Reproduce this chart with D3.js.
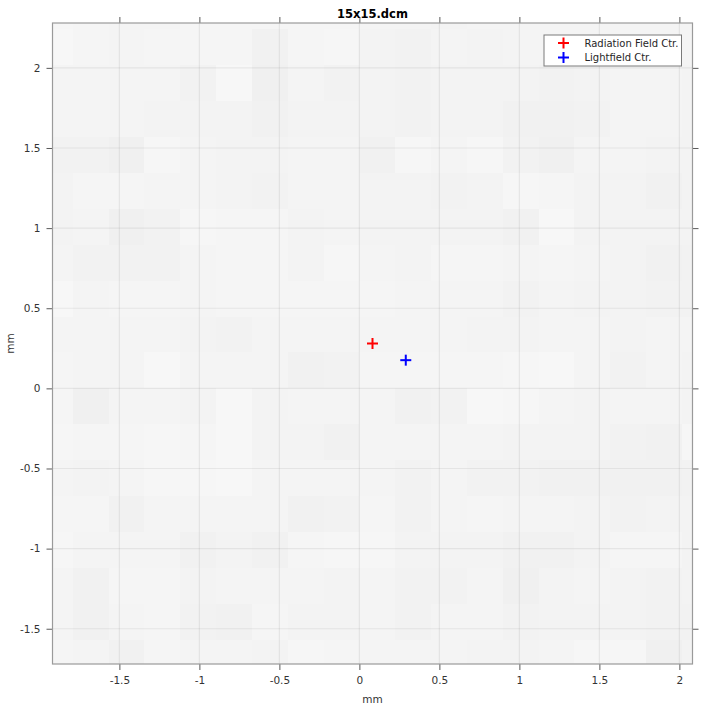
<!DOCTYPE html>
<html>
<head>
<meta charset="utf-8">
<script src="https://cdn.jsdelivr.net/npm/d3@7"></script>
<style>
  html, body { margin: 0; padding: 0; background: #ffffff; }
  svg { display: block; font-family: "DejaVu Sans", sans-serif; }
</style>
</head>
<body>
<svg id="chart" width="717" height="709"></svg>
<script>
// ---------------- DATA ----------------
const title = "15x15.dcm";
const xLabel = "mm";
const yLabel = "mm";
const xDomain = [-1.918, 2.082];
const yDomain = [-1.72, 2.28];
const xTicks = [-1.5, -1, -0.5, 0, 0.5, 1, 1.5, 2];
const yTicks = [-1.5, -1, -0.5, 0, 0.5, 1, 1.5, 2];
const xTickLabels = ["-1.5", "-1", "-0.5", "0", "0.5", "1", "1.5", "2"];
const yTickLabels = ["-1.5", "-1", "-0.5", "0", "0.5", "1", "1.5", "2"];
const pixelSize = 0.224; // mm per image pixel

// image pixel centres (mm)
const colCenters = [-1.904, -1.68, -1.456, -1.232, -1.008, -0.784, -0.56, -0.336, -0.112,
  0.112, 0.336, 0.56, 0.784, 1.008, 1.232, 1.456, 1.68, 1.904, 2.128];
const rowCenters = [2.352, 2.128, 1.904, 1.68, 1.456, 1.232, 1.008, 0.784, 0.56, 0.336,
  0.112, -0.112, -0.336, -0.56, -0.784, -1.008, -1.232, -1.456, -1.68];

// grey level (0-255) of each image pixel, rows top to bottom
const imageRows = [
  [246,245,244,244,245,245,245,245,245,244, 244,243,244,244,244,244,244,244,244],
  [247,245,244,245,245,245,241,245,246,243, 242,244,243,244,244,244,244,244,244],
  [244,244,244,244,242,247,240,244,242,243, 242,243,243,243,242,243,244,244,243],
  [244,244,244,243,243,243,241,243,243,243, 242,243,243,241,241,242,244,244,243],
  [242,242,240,246,244,243,243,244,244,241, 246,244,246,242,240,244,244,243,243],
  [243,245,245,244,244,243,242,244,244,243, 243,242,243,246,245,243,243,241,243],
  [243,244,240,242,246,245,245,243,244,243, 243,243,243,241,247,243,243,243,243],
  [244,242,242,242,244,245,245,243,246,244, 243,245,245,244,245,244,243,241,242],
  [247,244,245,245,244,245,245,245,245,245, 244,244,244,242,244,243,243,242,242],
  [244,244,244,244,243,242,244,244,244,244, 244,244,243,243,244,244,243,244,244],
  [245,244,244,247,244,244,244,241,242,245, 245,245,245,246,247,244,242,244,243],
  [245,240,244,244,243,247,243,244,244,244, 241,242,247,246,244,243,244,244,243],
  [246,245,245,246,245,247,243,243,241,244, 244,244,244,243,243,243,242,241,246],
  [244,243,244,246,246,247,244,244,244,244, 242,244,242,242,241,241,241,241,242],
  [245,245,241,244,244,244,244,241,242,245, 242,244,245,244,244,243,242,243,243],
  [246,244,244,244,241,243,241,245,246,246, 243,243,243,241,241,243,245,245,243],
  [244,241,245,245,243,244,244,244,243,244, 242,242,244,240,243,244,243,242,243],
  [244,241,244,245,242,241,245,243,243,244, 242,244,244,242,243,243,243,242,242],
  [245,244,241,245,244,244,243,246,245,244, 244,244,243,243,244,246,246,240,243]
];

const seriesNames = ["Radiation Field Ctr.", "Lightfield Ctr."];
const seriesColors = ["#ff0000", "#0000ff"];
const centerX = [0.082, 0.29];
const centerY = [0.28, 0.176];

// ---------------- LAYOUT ----------------
const svg = d3.select("#chart");
const margin = { left: 52.5, right: 692.5, top: 23, bottom: 664 };

const x = d3.scaleLinear().domain(xDomain).range([margin.left, margin.right]);
const y = d3.scaleLinear().domain(yDomain).range([margin.bottom, margin.top]);
const grey = d3.scaleLinear().domain([0, 255]).range(["#000000", "#ffffff"]);

svg.append("defs").append("clipPath").attr("id", "plotClip")
  .append("rect")
  .attr("x", margin.left).attr("y", margin.top)
  .attr("width", margin.right - margin.left)
  .attr("height", margin.bottom - margin.top);

const plot = svg.append("g").attr("clip-path", "url(#plotClip)");

// image cells
const cells = [];
imageRows.forEach((row, ri) => row.forEach((v, ci) => {
  cells.push({ cx: colCenters[ci], cy: rowCenters[ri], v });
}));
plot.append("g").selectAll("rect").data(cells).join("rect")
  .attr("x", d => x(d.cx - pixelSize / 2))
  .attr("y", d => y(d.cy + pixelSize / 2))
  .attr("width", d => x(d.cx + pixelSize / 2) - x(d.cx - pixelSize / 2) + 0.5)
  .attr("height", d => y(d.cy - pixelSize / 2) - y(d.cy + pixelSize / 2) + 0.5)
  .attr("fill", d => grey(d.v))
  .attr("shape-rendering", "crispEdges");

// grid
const gridColor = "rgba(38,38,38,0.075)";
plot.append("g").selectAll("line").data(xTicks).join("line")
  .attr("x1", d => x(d)).attr("x2", d => x(d))
  .attr("y1", margin.top).attr("y2", margin.bottom)
  .attr("stroke", gridColor).attr("stroke-width", 1.2);
plot.append("g").selectAll("line").data(yTicks).join("line")
  .attr("y1", d => y(d)).attr("y2", d => y(d))
  .attr("x1", margin.left).attr("x2", margin.right)
  .attr("stroke", gridColor).attr("stroke-width", 1.2);

// markers
function plus(sel, size, color, width) {
  sel.append("line").attr("x1", -size).attr("x2", size).attr("y1", 0).attr("y2", 0)
    .attr("stroke", color).attr("stroke-width", width);
  sel.append("line").attr("y1", -size).attr("y2", size).attr("x1", 0).attr("x2", 0)
    .attr("stroke", color).attr("stroke-width", width);
}
seriesNames.forEach((name, i) => {
  const g = plot.append("g").attr("transform", `translate(${x(centerX[i])},${y(centerY[i])})`);
  plus(g, 5.5, seriesColors[i], 2);
});

// axes
const tickSize = 6;
const fontSize = 10.5;

function styleAxis(g) {
  g.select(".domain").remove();
  g.selectAll(".tick line").attr("stroke", "#5a5a5a").attr("stroke-width", 1);
  g.selectAll(".tick text").attr("fill", "#333333").attr("font-size", fontSize)
    .attr("font-family", "DejaVu Sans, sans-serif");
}
svg.append("g").attr("transform", `translate(0,${margin.bottom})`)
  .call(d3.axisBottom(x).tickValues(xTicks).tickFormat((d, i) => xTickLabels[i]).tickSize(tickSize).tickPadding(7))
  .call(styleAxis);
svg.append("g").attr("transform", `translate(0,${margin.top})`)
  .call(d3.axisTop(x).tickValues(xTicks).tickFormat("").tickSize(tickSize))
  .call(styleAxis);
svg.append("g").attr("transform", `translate(${margin.left},0)`)
  .call(d3.axisLeft(y).tickValues(yTicks).tickFormat((d, i) => yTickLabels[i]).tickSize(tickSize).tickPadding(6))
  .call(styleAxis);
svg.append("g").attr("transform", `translate(${margin.right},0)`)
  .call(d3.axisRight(y).tickValues(yTicks).tickFormat("").tickSize(tickSize))
  .call(styleAxis);

// box
svg.append("rect")
  .attr("x", margin.left).attr("y", margin.top)
  .attr("width", margin.right - margin.left)
  .attr("height", margin.bottom - margin.top)
  .attr("fill", "none").attr("stroke", "#9a9a9a").attr("stroke-width", 1.2);

// title and labels
svg.append("text").attr("x", (margin.left + margin.right) / 2).attr("y", 18)
  .attr("text-anchor", "middle").attr("font-size", 11.5).attr("font-weight", "bold")
  .attr("fill", "#000").text(title);
svg.append("text").attr("x", (margin.left + margin.right) / 2).attr("y", 703)
  .attr("text-anchor", "middle").attr("font-size", fontSize).attr("fill", "#333")
  .text(xLabel);
svg.append("text").attr("transform", `translate(14,${(margin.top + margin.bottom) / 2}) rotate(-90)`)
  .attr("text-anchor", "middle").attr("font-size", fontSize).attr("fill", "#333")
  .text(yLabel);

// legend
const legend = svg.append("g").attr("transform", "translate(544,35)");
legend.append("rect").attr("width", 137.5).attr("height", 31)
  .attr("fill", "#ffffff").attr("stroke", "#7a7a7a").attr("stroke-width", 1);
seriesNames.forEach((name, i) => {
  const row = legend.append("g").attr("transform", `translate(19.5,${8 + i * 14.5})`);
  plus(row, 5.5, seriesColors[i], 2);
  row.append("text").attr("x", 21).attr("y", 3.8).attr("font-size", 10)
    .attr("fill", "#262626").text(name);
});
</script>
</body>
</html>
